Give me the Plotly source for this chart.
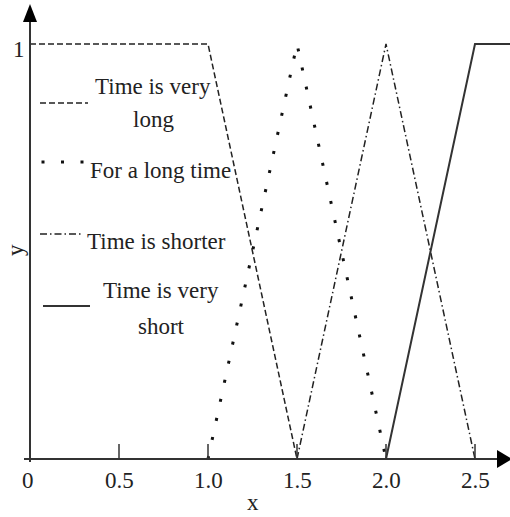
import plotly.graph_objects as go

# membership functions
x_very_long = [0, 1.0, 1.5]
y_very_long = [1, 1, 0]
x_long_time = [1.0, 1.5, 2.0]
y_long_time = [0, 1, 0]
x_shorter = [1.5, 2.0, 2.5]
y_shorter = [0, 1, 0]
x_very_short = [2.0, 2.5, 2.7]
y_very_short = [0, 1, 1]

x_ticks = [0.5, 1.0, 1.5, 2.0, 2.5]
x_tick_labels = ['0', '0.5', '1.0', '1.5', '2.0', '2.5']
x_tick_label_pos = [0, 0.5, 1.0, 1.5, 2.0, 2.5]

W, H = 510, 517
X0_PX, Y0_PX = 30, 459      # pixel of data origin
SX, SY = 178, 415           # pixels per data unit

FONT = 'Liberation Serif, Times New Roman, serif'
INK = '#222222'


def px(xp):
    return xp / W


def py(yp):
    return 1 - yp / H


fig = go.Figure()

fig.add_trace(go.Scatter(x=x_very_long, y=y_very_long, mode='lines',
                         line=dict(color=INK, width=1.5, dash='6px,3px'),
                         hoverinfo='skip'))
fig.add_trace(go.Scatter(x=x_long_time, y=y_long_time, mode='lines',
                         line=dict(color='#111111', width=3, dash='3px,16.5px'),
                         hoverinfo='skip'))
fig.add_trace(go.Scatter(x=x_shorter, y=y_shorter, mode='lines',
                         line=dict(color=INK, width=1.5, dash='7px,3px,1.5px,3px'),
                         hoverinfo='skip'))
fig.add_trace(go.Scatter(x=x_very_short, y=y_very_short, mode='lines',
                         line=dict(color='#333333', width=2),
                         hoverinfo='skip'))

shapes = []
# axes
shapes.append(dict(type='line', xref='paper', yref='paper',
                   x0=px(24), x1=px(498), y0=py(Y0_PX), y1=py(Y0_PX),
                   line=dict(color='#333333', width=2)))
shapes.append(dict(type='line', xref='paper', yref='paper',
                   x0=px(X0_PX), x1=px(X0_PX), y0=py(462), y1=py(20),
                   line=dict(color='#333333', width=2)))
# arrow heads
shapes.append(dict(type='path', xref='paper', yref='paper',
                   path=f'M {px(497)} {py(450)} L {px(512)} {py(459)} L {px(497)} {py(468)} Z',
                   fillcolor='black', line=dict(color='black', width=0)))
shapes.append(dict(type='path', xref='paper', yref='paper',
                   path=f'M {px(23)} {py(22)} L {px(30)} {py(4)} L {px(37)} {py(22)} Z',
                   fillcolor='black', line=dict(color='black', width=0)))
# tick marks
for t in x_ticks:
    shapes.append(dict(type='line', xref='x', yref='y', x0=t, x1=t,
                       y0=0, y1=15 / SY, line=dict(color='#333333', width=1.5)))

# legend samples
shapes.append(dict(type='line', xref='paper', yref='paper',
                   x0=px(40), x1=px(88), y0=py(103), y1=py(103),
                   line=dict(color=INK, width=1.5, dash='6px,3px')))
shapes.append(dict(type='line', xref='paper', yref='paper',
                   x0=px(41.5), x1=px(84), y0=py(162), y1=py(162),
                   line=dict(color='#111111', width=3, dash='3px,16.5px')))
shapes.append(dict(type='line', xref='paper', yref='paper',
                   x0=px(40), x1=px(83), y0=py(234), y1=py(234),
                   line=dict(color=INK, width=1.5, dash='7px,3px,1.5px,3px')))
shapes.append(dict(type='line', xref='paper', yref='paper',
                   x0=px(43), x1=px(90), y0=py(306), y1=py(306),
                   line=dict(color='#333333', width=2)))

annotations = []
for pos, lab in zip(x_tick_label_pos, x_tick_labels):
    annotations.append(dict(x=pos, y=0, xref='x', yref='y', text=lab,
                            showarrow=False, yanchor='middle', yshift=-21,
                            xshift=-2 if pos == 0 else 0,
                            font=dict(family=FONT, size=23, color=INK)))
annotations.append(dict(x=0, y=1, xref='x', yref='y', text='1', showarrow=False,
                        xshift=-11, yshift=-5, font=dict(family=FONT, size=23, color=INK)))
annotations.append(dict(x=1.25, y=0, xref='x', yref='y', text='x', showarrow=False,
                        yshift=-43, font=dict(family=FONT, size=23, color=INK)))
annotations.append(dict(x=px(15), y=py(250), xref='paper', yref='paper', text='y',
                        showarrow=False, textangle=-90, xanchor='center', yanchor='middle',
                        font=dict(family=FONT, size=23, color=INK)))

legend_text = [
    ('Time is very', 153, 87, 'center'),
    ('long', 153, 120, 'center'),
    ('For a long time', 88, 171, 'left'),
    ('Time is shorter', 85, 241, 'left'),
    ('Time is very', 161, 290, 'center'),
    ('short', 161, 326, 'center'),
]
for txt, xp, yp, anchor in legend_text:
    annotations.append(dict(x=px(xp), y=py(yp), xref='paper', yref='paper', text=txt,
                            showarrow=False, xanchor=anchor, yanchor='middle',
                            font=dict(family=FONT, size=23, color=INK)))

fig.update_layout(
    width=W, height=H,
    showlegend=False,
    hovermode=False,
    plot_bgcolor='white',
    paper_bgcolor='white',
    margin=dict(l=0, r=0, t=0, b=0),
    xaxis=dict(visible=False, range=[-X0_PX / SX, (W - X0_PX) / SX], fixedrange=True),
    yaxis=dict(visible=False, range=[-(H - Y0_PX) / SY, Y0_PX / SY], fixedrange=True),
    shapes=shapes,
    annotations=annotations,
)

# the page body has a default 8px margin; drop it so the figure sits at the corner
fig.write_html('out.html', config={'displayModeBar': False},
               post_script="document.body.style.margin='0';document.body.style.overflow='hidden';")
